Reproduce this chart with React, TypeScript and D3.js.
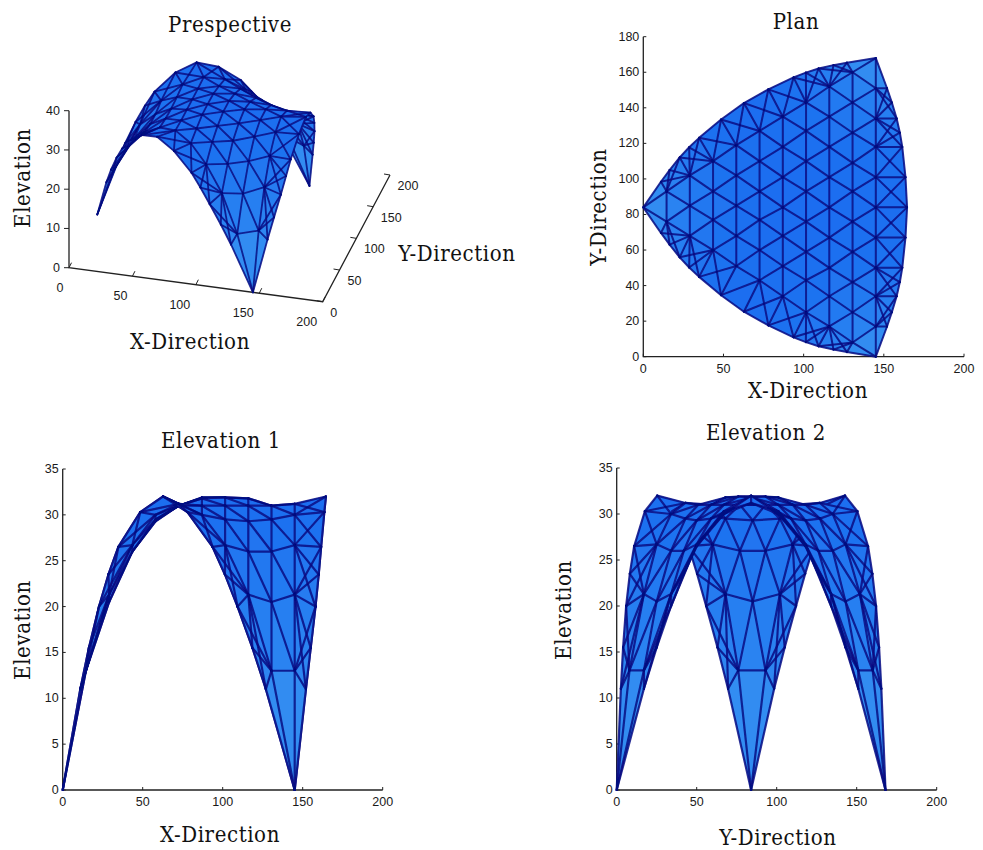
import React from "react";
import * as d3 from "d3";

// ---- lattice columns (plan x, plan y per node, elevation per node) ----
const columnXs = [0, 14.5, 29, 43.5, 58, 72.5, 87, 101.5, 116, 130.5, 145];
const columnYs = [
  [84],
  [76, 93],
  [68, 85, 102],
  [60, 77, 93, 110],
  [51, 68, 85, 102, 119],
  [43, 60, 77, 93, 110, 127],
  [34, 51, 68, 84, 101, 118, 135],
  [25, 43, 59, 76, 93, 110, 127, 143],
  [17, 34, 50, 67, 84, 101, 118, 135, 152],
  [8, 25, 42, 59, 76, 93, 109, 126, 143, 160],
  [0, 17, 34, 50, 67, 84, 101, 118, 134, 151, 168],
];
const columnZs = [
  [0],
  [13, 13],
  [21.3, 20.5, 21.3],
  [26.7, 26, 26, 26.7],
  [30, 29.5, 29.3, 29.5, 30],
  [31.2, 31, 31, 31, 31, 31.2],
  [30, 31, 31.8, 31.9, 31.8, 31, 30],
  [26.7, 29.5, 31, 31.9, 31.9, 31, 29.5, 26.7],
  [21.3, 26, 29.3, 31, 31.8, 31, 29.3, 26, 21.3],
  [13, 20.5, 26, 29.5, 31, 31, 29.5, 26, 20.5, 13],
  [0, 13, 21.3, 26.7, 30, 31.2, 30, 26.7, 21.3, 13, 0],
];

// ---- boundary arcs ----
const arcZs = [11, 15.5, 20, 23.5, 26.5, 30.3, 32, 30.3, 26.5, 23.5, 20, 15.5, 11];
const arcBCxs = [152, 155, 158, 160, 161.5, 163.5, 164.5, 163.5, 161.5, 160, 158, 155, 152];
const arcBCys = [17, 25, 34, 42, 50, 67, 84, 101, 118, 126, 134, 143, 151];
const arcABxs = [11, 16.4, 22.7, 28.6, 34.8, 48.5, 62.75, 78, 93.7, 101.4, 109.3, 118.6, 127];
const arcABys = [69.6, 63, 55.9, 50.2, 44.9, 34.6, 25.3, 17.6, 10.9, 8.2, 5.9, 4, 2.6];
const arcACxs = [11, 16.4, 22.7, 28.6, 34.8, 48.5, 62.75, 78, 93.7, 101.4, 109.3, 118.6, 127];
const arcACys = [98.4, 105, 112.1, 117.8, 123.1, 133.4, 142.7, 150.4, 157.1, 159.8, 162.1, 164, 165.4];

// ---- axis ticks and titles ----
const ticksXY = [0, 50, 100, 150, 200];
const ticksPlanY = [0, 20, 40, 60, 80, 100, 120, 140, 160, 180];
const ticksElev = [0, 5, 10, 15, 20, 25, 30, 35];
const ticksPerspZ = [0, 10, 20, 30, 40];

type P = { x: number; y: number; z: number };
const nodes: P[] = [];
const id: number[][] = [];
columnXs.forEach((x, i) => {
  id[i] = columnYs[i].map((y, j) => {
    nodes.push({ x, y, z: columnZs[i][j] });
    return nodes.length - 1;
  });
});
const addArc = (xs: number[], ys: number[]) =>
  xs.map((x, k) => {
    nodes.push({ x, y: ys[k], z: arcZs[k] });
    return nodes.length - 1;
  });
const arcAB = addArc(arcABxs, arcABys);
const arcAC = addArc(arcACxs, arcACys);
const arcBC = addArc(arcBCxs, arcBCys);

const segs: [number, number][] = [];
const tris: [number, number, number][] = [];
for (let i = 0; i < id.length; i++) {
  for (let j = 0; j < id[i].length; j++) {
    if (j + 1 < id[i].length) segs.push([id[i][j], id[i][j + 1]]);
    if (i < 10) {
      segs.push([id[i][j], id[i + 1][j]]);
      segs.push([id[i][j], id[i + 1][j + 1]]);
      tris.push([id[i][j], id[i + 1][j], id[i + 1][j + 1]]);
      if (j + 1 < id[i].length) tris.push([id[i][j], id[i][j + 1], id[i + 1][j + 1]]);
    }
  }
}
const dist = (a: number, b: number) => Math.hypot(nodes[a].x - nodes[b].x, nodes[a].y - nodes[b].y);
const strip = (side: number[], arc: number[]) => {
  const full = [side[0], ...arc, side[side.length - 1]];
  for (let k = 0; k + 1 < full.length; k++) segs.push([full[k], full[k + 1]]);
  const inner = side.slice(1, -1);
  for (const a of arc) for (const s of inner) if (dist(a, s) <= 26) segs.push([a, s]);
  let p = 0, q = 0;
  while (p < side.length - 1 || q < full.length - 1) {
    const adv =
      q >= full.length - 1 ? true : p >= side.length - 1 ? false : dist(side[p + 1], full[q]) < dist(side[p], full[q + 1]);
    if (adv) { tris.push([side[p], side[p + 1], full[q]]); p++; }
    else { tris.push([side[p], full[q], full[q + 1]]); q++; }
  }
};
strip(id.map((c) => c[0]), arcAB);
strip(id.map((c) => c[c.length - 1]), arcAC);
strip(id[10], arcBC);

const fillScale = d3.scaleLinear<string>().domain([0, 32]).range(["#3a98f2", "#1b6df0"]);
const lineColor = "#06087f";
const line2 = d3.line<[number, number]>();

function Mesh({ project, depth, width, bias }: { project: (p: P) => [number, number]; depth: (p: P) => number; width: number; bias: number }) {
  const items: { d: number; el: React.ReactNode }[] = [];
  tris.forEach((t, k) => {
    const ps = t.map((n) => nodes[n]);
    const path = line2(ps.map(project) as [number, number][]) + "Z";
    const f = fillScale(d3.mean(ps, (p) => p.z) as number);
    items.push({
      d: d3.mean(ps, depth) as number,
      el: <path key={"t" + k} d={path} fill={f} stroke={f} strokeWidth={0.6} />,
    });
  });
  segs.forEach((s, k) => {
    const a = nodes[s[0]], b = nodes[s[1]];
    items.push({
      d: (depth(a) + depth(b)) / 2 + bias,
      el: (
        <path key={"s" + k} d={line2([project(a), project(b)]) as string} stroke={lineColor} strokeOpacity={0.82}
          strokeWidth={width} fill="none" strokeLinecap="round" />
      ),
    });
  });
  items.sort((p, q) => p.d - q.d);
  return <g filter="url(#soft)">{items.map((i) => i.el)}</g>;
}

const tickFont = { fontFamily: "'Liberation Sans', Arial, sans-serif", fontSize: 12.5, fill: "#1a1a1a" };
const titleFont = { fontFamily: "'DejaVu Serif Condensed', 'DejaVu Serif', serif", fontSize: 22, letterSpacing: 0.6, fill: "#111" };

function Axes2D({ x, y, xt, yt }: { x: d3.ScaleLinear<number, number>; y: d3.ScaleLinear<number, number>; xt: number[]; yt: number[] }) {
  const x0 = x(0), y0 = y(0);
  return (
    <g>
      <path d={`M${x0},${y.range()[1]}V${y0}H${x.range()[1]}`} fill="none" stroke="#222" strokeWidth={1.3} />
      {xt.map((t) => (
        <g key={"x" + t}>
          <line x1={x(t)} x2={x(t)} y1={y0} y2={y0 - 3} stroke="#222" />
          <text x={x(t)} y={y0 + 16} textAnchor="middle" {...tickFont}>{t}</text>
        </g>
      ))}
      {yt.map((t) => (
        <g key={"y" + t}>
          <line x1={x0} x2={x0 + 3} y1={y(t)} y2={y(t)} stroke="#222" />
          <text x={x0 - 4} y={y(t) + 4} textAnchor="end" {...tickFont}>{t}</text>
        </g>
      ))}
    </g>
  );
}

function Title({ x, y, children, rotate }: { x: number; y: number; children: string; rotate?: boolean }) {
  return (
    <text x={x} y={y} textAnchor="middle" transform={rotate ? `rotate(-90 ${x} ${y})` : undefined} {...titleFont}>
      {children}
    </text>
  );
}

// perspective projection built from the axis end points
const pX = d3.scaleLinear().domain([0, 200]).range([0, 253.7]);
const pXd = d3.scaleLinear().domain([0, 200]).range([0, 34]);
const pY = d3.scaleLinear().domain([0, 200]).range([0, 67.3]);
const pYd = d3.scaleLinear().domain([0, 200]).range([0, -126.7]);
const pZ = d3.scaleLinear().domain([0, 40]).range([0, -157]);
const ox = 69, oy = 267.7;
const persp = (p: P): [number, number] => [ox + pX(p.x) + pY(p.y), oy + pXd(p.x) + pYd(p.y) + pZ(p.z)];

const planX = d3.scaleLinear().domain([0, 200]).range([643.3, 964]);
const planY = d3.scaleLinear().domain([0, 180]).range([356.7, 36.7]);
const e1X = d3.scaleLinear().domain([0, 200]).range([62.7, 382.7]);
const e1Y = d3.scaleLinear().domain([0, 35]).range([790, 469]);
const e2X = d3.scaleLinear().domain([0, 200]).range([616.7, 936.7]);
const e2Y = d3.scaleLinear().domain([0, 35]).range([790, 468]);

export default function App() {
  return (
    <svg width={983} height={850} viewBox="0 0 983 850" style={{ position: "absolute", left: 0, top: 0, background: "#fff" }}>
      <defs>
        <filter id="soft" x="-5%" y="-5%" width="110%" height="110%">
          <feGaussianBlur stdDeviation={0.5} />
        </filter>
      </defs>

      {/* Perspective */}
      <Title x={230} y={32}>Prespective</Title>
      <path d={`M${ox},${oy + pZ(40)}V${oy}L${ox + pX(200)},${oy + pXd(200)}L${ox + pX(200) + pY(200)},${oy + pXd(200) + pYd(200)}`}
        fill="none" stroke="#222" strokeWidth={1.3} />
      {ticksPerspZ.map((t) => (
        <g key={"pz" + t}>
          <line x1={ox} x2={ox - 5} y1={oy + pZ(t)} y2={oy + pZ(t)} stroke="#222" />
          <text x={ox - 9} y={oy + pZ(t) + 4} textAnchor="end" {...tickFont}>{t}</text>
        </g>
      ))}
      {ticksXY.map((t) => (
        <g key={"px" + t}>
          <line x1={ox + pX(t)} y1={oy + pXd(t)} x2={ox + pX(t) + 2.5} y2={oy + pXd(t) - 5} stroke="#222" />
          <text x={ox + pX(t) - (t === 0 ? 9 : t === 50 ? 12 : 16)} y={oy + pXd(t) + 24} textAnchor="middle" {...tickFont}>{t}</text>
        </g>
      ))}
      {ticksXY.map((t) => {
        const bx = ox + pX(200) + pY(t), by = oy + pXd(200) + pYd(t);
        return (
          <g key={"py" + t}>
            <line x1={bx} y1={by} x2={bx - 6} y2={by - 1} stroke="#222" />
            <text x={bx + (t === 0 ? 11 : t === 50 ? 15 : 18)} y={by + 15} textAnchor="middle" {...tickFont}>{t}</text>
          </g>
        );
      })}
      <Mesh project={persp} depth={(p) => 1.324 * p.x - 4.99 * p.y + 3.45 * p.z} width={1.8} bias={70} />
      <Title x={30} y={178} rotate>Elevation</Title>
      <Title x={190} y={349}>X-Direction</Title>
      <Title x={457} y={261}>Y-Direction</Title>

      {/* Plan */}
      <Title x={796} y={29}>Plan</Title>
      <Axes2D x={planX} y={planY} xt={ticksXY} yt={ticksPlanY} />
      <Mesh project={(p) => [planX(p.x), planY(p.y)]} depth={() => 0} width={2} bias={1} />
      <Title x={808} y={398}>X-Direction</Title>
      <Title x={606} y={207} rotate>Y-Direction</Title>

      {/* Elevation 1 */}
      <Title x={221} y={448}>Elevation 1</Title>
      <Axes2D x={e1X} y={e1Y} xt={ticksXY} yt={ticksElev} />
      <Mesh project={(p) => [e1X(p.x), e1Y(p.z)]} depth={(p) => -p.y} width={2.2} bias={14} />
      <Title x={220} y={842}>X-Direction</Title>
      <Title x={30} y={630} rotate>Elevation</Title>

      {/* Elevation 2 */}
      <Title x={766} y={440}>Elevation 2</Title>
      <Axes2D x={e2X} y={e2Y} xt={ticksXY} yt={ticksElev} />
      <Mesh project={(p) => [e2X(p.y), e2Y(p.z)]} depth={(p) => p.x} width={2.2} bias={14} />
      <Title x={778} y={845}>Y-Direction</Title>
      <Title x={571} y={610} rotate>Elevation</Title>
    </svg>
  );
}
